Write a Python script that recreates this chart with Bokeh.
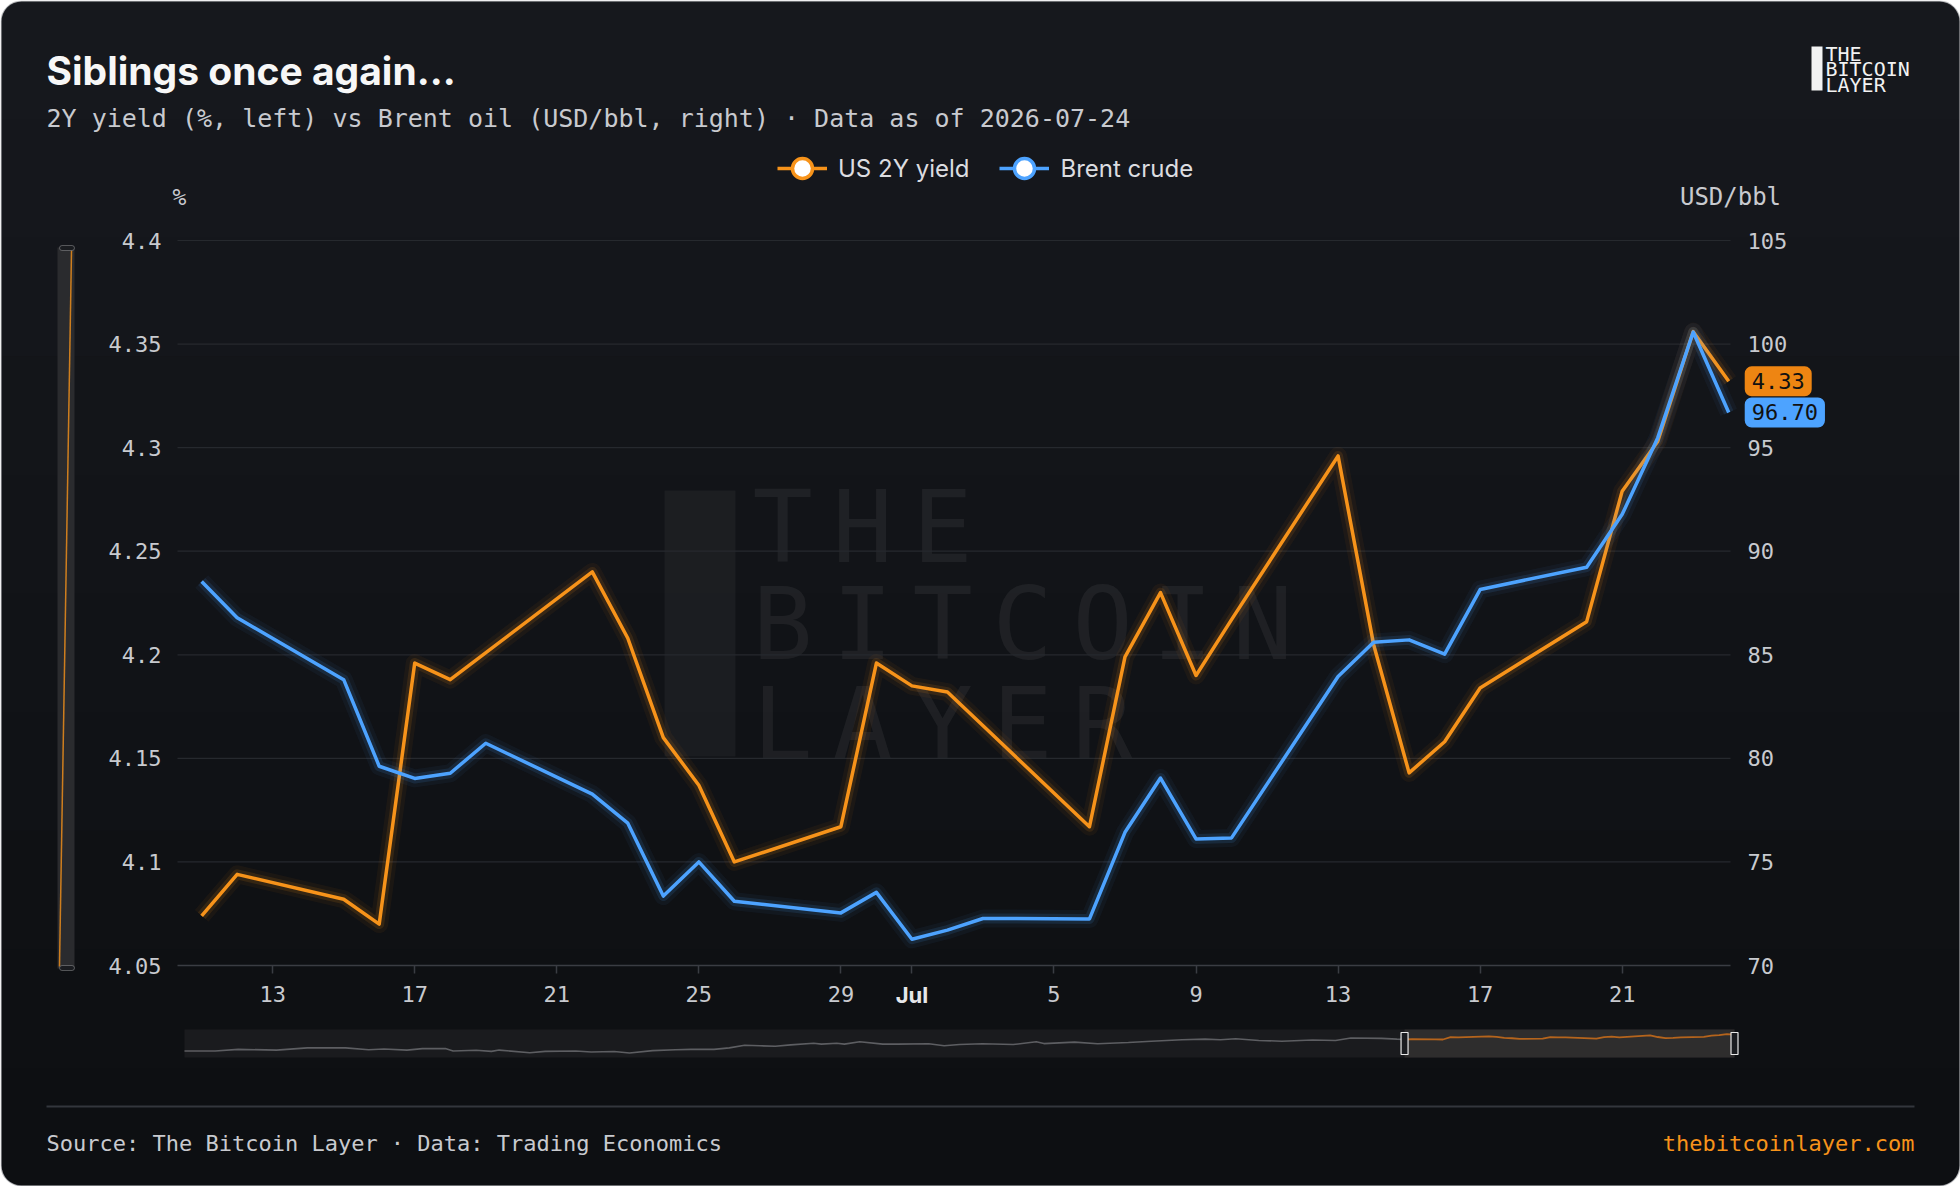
import pandas as pd
from bokeh.plotting import figure
from bokeh.models import (ColumnDataSource, Range1d, LinearAxis, FixedTicker,
                          CustomJSTickFormatter, Label, BoxAnnotation, Arrow,
                          Legend, LegendItem)
from bokeh.embed import file_html
from bokeh.resources import INLINE

# ---------------- data ----------------
y2_dates = [
    "2026-06-11", "2026-06-12", "2026-06-15", "2026-06-16", "2026-06-17", "2026-06-18",
    "2026-06-22", "2026-06-23", "2026-06-24", "2026-06-25", "2026-06-26", "2026-06-29",
    "2026-06-30", "2026-07-01", "2026-07-02", "2026-07-06", "2026-07-07", "2026-07-08",
    "2026-07-09", "2026-07-10", "2026-07-13", "2026-07-14", "2026-07-15", "2026-07-16",
    "2026-07-17", "2026-07-20", "2026-07-21", "2026-07-22", "2026-07-23", "2026-07-24",
]
y2_values = [4.074, 4.094, 4.082, 4.070, 4.196, 4.188,
             4.240, 4.208, 4.160, 4.137, 4.100, 4.117,
             4.196, 4.185, 4.182, 4.117, 4.199, 4.230,
             4.190, 4.217, 4.296, 4.205, 4.143, 4.158,
             4.184, 4.216, 4.279, 4.303, 4.356, 4.332]

brent_dates = [
    "2026-06-11", "2026-06-12", "2026-06-15", "2026-06-16", "2026-06-17", "2026-06-18",
    "2026-06-19", "2026-06-22", "2026-06-23", "2026-06-24", "2026-06-25", "2026-06-26",
    "2026-06-29", "2026-06-30", "2026-07-01", "2026-07-02", "2026-07-03", "2026-07-06",
    "2026-07-07", "2026-07-08", "2026-07-09", "2026-07-10", "2026-07-13", "2026-07-14",
    "2026-07-15", "2026-07-16", "2026-07-17", "2026-07-20", "2026-07-21", "2026-07-22",
    "2026-07-23", "2026-07-24",
]
brent_values = [88.54, 86.79, 83.80, 79.62, 79.03, 79.28,
                80.73, 78.27, 76.87, 73.35, 75.00, 73.10,
                72.54, 73.53, 71.27, 71.71, 72.27, 72.25,
                76.43, 79.05, 76.11, 76.16, 83.95, 85.60,
                85.72, 85.03, 88.15, 89.23, 91.78, 95.47,
                100.58, 96.70]

# navigator: history of the 2Y yield before the visible window
nav_dates = [
    "2026-01-03", "2026-01-07", "2026-01-10", "2026-01-15", "2026-01-19", "2026-01-24",
    "2026-01-27", "2026-01-29", "2026-02-01", "2026-02-03", "2026-02-06", "2026-02-07",
    "2026-02-10", "2026-02-12", "2026-02-13", "2026-02-17", "2026-02-19", "2026-02-23",
    "2026-02-25", "2026-02-28", "2026-03-02", "2026-03-05", "2026-03-08", "2026-03-10",
    "2026-03-13", "2026-03-15", "2026-03-17", "2026-03-19", "2026-03-21", "2026-03-23",
    "2026-03-26", "2026-03-27", "2026-03-29", "2026-03-30", "2026-04-01", "2026-04-04",
    "2026-04-06", "2026-04-10", "2026-04-12", "2026-04-14", "2026-04-17", "2026-04-21",
    "2026-04-24", "2026-04-25", "2026-04-29", "2026-05-02", "2026-05-06", "2026-05-09",
    "2026-05-13", "2026-05-16", "2026-05-18", "2026-05-20", "2026-05-23", "2026-05-26",
    "2026-05-30", "2026-06-02", "2026-06-04", "2026-06-08", "2026-06-10",
]
nav_values = [3.45, 3.45, 3.54, 3.50, 3.62, 3.62,
              3.52, 3.56, 3.50, 3.58, 3.58, 3.45,
              3.49, 3.43, 3.50, 3.36, 3.43, 3.45,
              3.40, 3.42, 3.34, 3.47, 3.52, 3.54,
              3.54, 3.62, 3.76, 3.73, 3.71, 3.78,
              3.87, 3.82, 3.87, 3.82, 3.95, 3.82,
              3.82, 3.84, 3.73, 3.80, 3.84, 3.80,
              3.95, 3.85, 3.93, 3.84, 3.91, 3.98,
              4.06, 4.09, 4.06, 4.11, 4.02, 3.98,
              4.04, 4.02, 4.15, 4.13, 4.09]

x_tick_dates = ["2026-06-13", "2026-06-17", "2026-06-21", "2026-06-25", "2026-06-29",
                "2026-07-01", "2026-07-05", "2026-07-09", "2026-07-13", "2026-07-17",
                "2026-07-21"]
x_tick_labels = ["13", "17", "21", "25", "29", "Jul", "5", "9", "13", "17", "21"]
yield_ticks = [4.05, 4.1, 4.15, 4.2, 4.25, 4.3, 4.35, 4.4]
brent_ticks = [70, 75, 80, 85, 90, 95, 100, 105]

title_text = "Siblings once again..."
subtitle_text = "2Y yield (%, left) vs Brent oil (USD/bbl, right) \u00b7 Data as of 2026-07-24"
series_names = ["US 2Y yield", "Brent crude"]
unit_labels = ["%", "USD/bbl"]
source_text = "Source: The Bitcoin Layer \u00b7 Data: Trading Economics"
site_text = "thebitcoinlayer.com"
logo_lines = ["THE", "BITCOIN", "LAYER"]

# ---------------- style / layout ----------------
CARD_TOP = (0x16, 0x18, 0x1d)
CARD_BOT = (0x0d, 0x0f, 0x12)
ORANGE = "#f7931a"
ORANGE_BOX = "#ee8512"
BLUE = "#4da3ff"
GRID = "#26292e"
TICK_TXT = "#c8cacf"
MONO = "DejaVu Sans Mono"
SANS = "Inter"
DAY = 86400000.0
W, H = 1960, 1186


def ms(d):
    return pd.Timestamp(d).value / 1e6


def hexcol(c):
    return "#%02x%02x%02x" % tuple(int(round(v)) for v in c)


# main plot area in canvas pixels
FL, FR, FT, FB = 177, 1730, 240, 965
x_data0 = ms(brent_dates[0]) - 0.68 * DAY
x_data1 = ms(brent_dates[-1]) + 0.05 * DAY
ppx = (FR - FL) / (x_data1 - x_data0)
Y0, Y1 = yield_ticks[0], yield_ticks[-1]
ppy = (FB - FT) / (Y1 - Y0)
B0, B1 = brent_ticks[0], brent_ticks[-1]
ppb = (FB - FT) / (B1 - B0)

# navigator area in canvas pixels
NL, NR, NT, NB = 184, 1734, 1029, 1057
n_x0, n_x1 = ms(nav_dates[0]), ms(brent_dates[-1])
pnx = (NR - NL) / (n_x1 - n_x0)
NY0, NY1 = 3.10, 4.61
pny = (NB - NT) / (NY1 - NY0)

p = figure(width=W, height=H, output_backend="svg", toolbar_location=None,
           x_axis_type="datetime", min_border=0, title=None,
           x_range=Range1d(x_data0 - FL / ppx, x_data1 + (W - FR) / ppx),
           y_range=Range1d(Y0 - (H - FB) / ppy, Y1 + FT / ppy),
           background_fill_color="white", border_fill_color="white",
           outline_line_color=None)
p.outline_line_color = None
p.extra_y_ranges = {"oil": Range1d(B0 - (H - FB) / ppb, B1 + FT / ppb),
                    "navy": Range1d(NY0 - (H - NB) / pny, NY1 + NT / pny)}
p.extra_x_ranges = {"navx": Range1d(n_x0 - NL / pnx, n_x1 + (W - NR) / pnx)}
for g in p.grid:
    g.visible = False


def sx(X):
    return X


def sy(Y):
    return H - Y


def add_text(X, Y, text, font, size, color, align="left", baseline="middle",
             style="normal", alpha=1.0, level="annotation"):
    p.add_layout(Label(x=sx(X), y=sy(Y), x_units="screen", y_units="screen",
                       text=text, text_font=font, text_font_size=f"{size}px",
                       text_color=color, text_alpha=alpha, text_align=align,
                       text_baseline=baseline, text_font_style=style, level=level))


def add_box(X0, X1, Y0_, Y1_, color, alpha=1.0, line_color=None, radius=0,
            level="annotation", line_width=1):
    p.add_layout(BoxAnnotation(left=sx(X0), right=sx(X1), top=sy(Y0_), bottom=sy(Y1_),
                               left_units="screen", right_units="screen",
                               top_units="screen", bottom_units="screen",
                               fill_color=color, fill_alpha=alpha,
                               line_color=line_color, line_width=line_width,
                               border_radius=radius, level=level))


# card with a subtle vertical gradient
add_box(1, W - 1, 1, H - 1, hexcol(CARD_TOP), line_color="#2b2e34", line_width=2,
        radius=20, level="underlay")
NBANDS = 10
for i in range(1, NBANDS):
    t = i / (NBANDS - 1)
    col = tuple(a + (b - a) * t for a, b in zip(CARD_TOP, CARD_BOT))
    add_box(2, W - 2, i * H / NBANDS, H - 2, hexcol(col), radius=(0, 0, 19, 19),
            level="underlay")

# watermark
add_box(664, 735, 490, 756, "#ffffff", alpha=0.045, level="underlay")
for txt, yc in zip(logo_lines, [527, 624, 724]):
    for k, ch in enumerate(txt):
        add_text(752 + 80 * k, yc, ch, MONO, 100, "#ffffff", alpha=0.06, level="underlay")

# ---------------- axes ----------------
tick_ms = [ms(d) for d in x_tick_dates]
axis_labels = ["" if t == "Jul" else t for t in x_tick_labels]
xa = p.xaxis[0]
xa.fixed_location = Y0
xa.bounds = (x_data0, x_data1)
xa.ticker = FixedTicker(ticks=tick_ms)
xa.formatter = CustomJSTickFormatter(args=dict(t=tick_ms, l=axis_labels),
                                     code="const i = t.indexOf(tick); return i < 0 ? '' : l[i];")
xa.axis_line_color = "#3a3d43"
xa.axis_line_width = 1.5
xa.major_tick_line_color = "#3a3d43"
xa.major_tick_line_width = 1.5
xa.major_tick_out = 8
xa.major_tick_in = 0
xa.minor_tick_line_color = None
xa.major_label_standoff = 12
xa.major_label_text_font = MONO
xa.major_label_text_font_size = "22px"
xa.major_label_text_color = TICK_TXT

ya = p.yaxis[0]
ya.fixed_location = x_data0
ya.ticker = FixedTicker(ticks=yield_ticks)
ya.formatter = CustomJSTickFormatter(code="return String(parseFloat(tick.toFixed(2)));")
ya.axis_line_color = None
ya.major_tick_line_color = None
ya.minor_tick_line_color = None
ya.major_tick_out = 0
ya.major_tick_in = 0
ya.major_label_standoff = 16
ya.major_label_text_font = MONO
ya.major_label_text_font_size = "22px"
ya.major_label_text_color = TICK_TXT

ra = LinearAxis(y_range_name="oil", ticker=FixedTicker(ticks=brent_ticks),
                fixed_location=x_data1)
ra.axis_line_color = None
ra.major_tick_line_color = None
ra.minor_tick_line_color = None
ra.major_tick_out = 0
ra.major_tick_in = 0
ra.major_label_standoff = 17
ra.major_label_text_font = MONO
ra.major_label_text_font_size = "22px"
ra.major_label_text_color = TICK_TXT
p.add_layout(ra, "right")

# horizontal grid lines over the plot area
p.segment(x0=[x_data0] * (len(yield_ticks) - 1), x1=[x_data1] * (len(yield_ticks) - 1),
          y0=yield_ticks[1:], y1=yield_ticks[1:], line_color=GRID, line_width=1.2)

# ---------------- series ----------------
src_y = ColumnDataSource(dict(x=pd.to_datetime(y2_dates), y=y2_values))
src_b = ColumnDataSource(dict(x=pd.to_datetime(brent_dates), y=brent_values))
for w, a in [(18, 0.05), (10, 0.12)]:
    p.line("x", "y", source=src_y, line_color=ORANGE, line_width=w, line_alpha=a,
           line_join="round")
ly = p.line("x", "y", source=src_y, line_color=ORANGE, line_width=3.5, line_join="round")
for w, a in [(18, 0.05), (10, 0.12)]:
    p.line("x", "y", source=src_b, line_color=BLUE, line_width=w, line_alpha=a,
           line_join="round", y_range_name="oil")
lb = p.line("x", "y", source=src_b, line_color=BLUE, line_width=3.5, line_join="round",
            y_range_name="oil")

# hidden marker renderers, used only for the legend icons
my = p.scatter(x=pd.to_datetime(y2_dates[:1]), y=y2_values[:1], size=20, fill_color="white",
               line_color=ORANGE, line_width=3.5)
mb = p.scatter(x=pd.to_datetime(brent_dates[:1]), y=brent_values[:1], size=20,
               fill_color="white", line_color=BLUE, line_width=3.5, y_range_name="oil")
my.visible = False
mb.visible = False

legend = Legend(items=[LegendItem(label=series_names[0], renderers=[ly, my]),
                       LegendItem(label=series_names[1], renderers=[lb, mb])],
                orientation="horizontal", location=(777, sy(193)),
                glyph_width=50, glyph_height=50, label_standoff=11, spacing=30,
                padding=0, margin=0, border_line_alpha=0, background_fill_alpha=0,
                label_text_font=SANS, label_text_font_size="24px",
                label_text_color="#dcdde0")
p.add_layout(legend)

# last-value tags
p.add_layout(Label(x=ms(y2_dates[-1]), y=y2_values[-1], x_offset=16,
                   text=f"{y2_values[-1]:.2f}",
                   text_align="left", text_baseline="middle", text_font=MONO,
                   text_font_size="22px", text_color="#111111",
                   background_fill_color=ORANGE_BOX, padding=7, border_radius=7))
p.add_layout(Label(x=ms(brent_dates[-1]), y=brent_values[-1], x_offset=16,
                   text=f"{brent_values[-1]:.2f}", y_range_name="oil",
                   text_align="left", text_baseline="middle", text_font=MONO,
                   text_font_size="22px", text_color="#111111",
                   background_fill_color=BLUE, padding=7, border_radius=7))

# bold month label on the x axis
p.add_layout(Label(x=ms(x_tick_dates[x_tick_labels.index("Jul")]), y=sy(994),
                   x_units="data", y_units="screen", text="Jul", text_align="center",
                   text_baseline="middle", text_font=SANS, text_font_style="bold",
                   text_font_size="22px", text_color="#e6e7ea"))

# ---------------- header ----------------
add_text(46, 70, title_text, SANS, 39, "#f7f7f7", style="bold")
add_text(46, 118, subtitle_text, MONO, 25, "#c8cacf")
add_text(179, 196, unit_labels[0], MONO, 23, TICK_TXT, align="center")
add_text(1730, 196, unit_labels[1], MONO, 24, TICK_TXT, align="center")

# logo
add_box(1811, 1822, 46, 90, "#f2f2f2")
for txt, yc in zip(logo_lines, [53, 68, 84]):
    add_text(1825, yc, txt, MONO, 20, "#f2f2f2")

# vertical range slider at the left
add_box(57, 74, 247, 968, "#2a2b2e")
p.add_layout(Arrow(end=None, x_start=sx(71), y_start=sy(250), x_end=sx(59), y_end=sy(966),
                   start_units="screen", end_units="screen",
                   line_color=ORANGE, line_width=1.5, line_alpha=0.8))
add_box(59, 74, 245, 250, "#1a1c20", line_color="#e8e8e8", radius=3)
add_box(59, 74, 965, 970, "#1a1c20", line_color="#e8e8e8", radius=3)

# ---------------- navigator ----------------
p.quad(left=[n_x0], right=[n_x1], bottom=[NY0], top=[NY1], fill_color="#1a1b1e",
       line_color=None, x_range_name="navx", y_range_name="navy")
p.quad(left=[ms(y2_dates[0])], right=[n_x1], bottom=[NY0], top=[NY1], fill_color="#2e2d2d",
       line_color=None, x_range_name="navx", y_range_name="navy")
p.line(pd.to_datetime(nav_dates + y2_dates[:1]), nav_values + y2_values[:1],
       line_color="#5d5e62", line_width=1.6, x_range_name="navx", y_range_name="navy")
p.line(pd.to_datetime(y2_dates), y2_values, line_color="#b5641c", line_width=1.8,
       x_range_name="navx", y_range_name="navy")
p.rect(x=pd.to_datetime([y2_dates[0], y2_dates[-1]]), y=[(NY0 + NY1) / 2] * 2,
       width=7, height=22, width_units="screen", height_units="screen",
       fill_color="#1a1c20", line_color="#e8e8e8", line_width=1.2,
       x_range_name="navx", y_range_name="navy")

# ---------------- footer ----------------
add_box(46, 1914, 1105, 1107, "#33363c")
add_text(46, 1143, source_text, MONO, 22, "#c8cacf")
add_text(1914, 1143, site_text, MONO, 22, ORANGE, align="right")

open("out.html", "w").write(file_html(p, INLINE))
